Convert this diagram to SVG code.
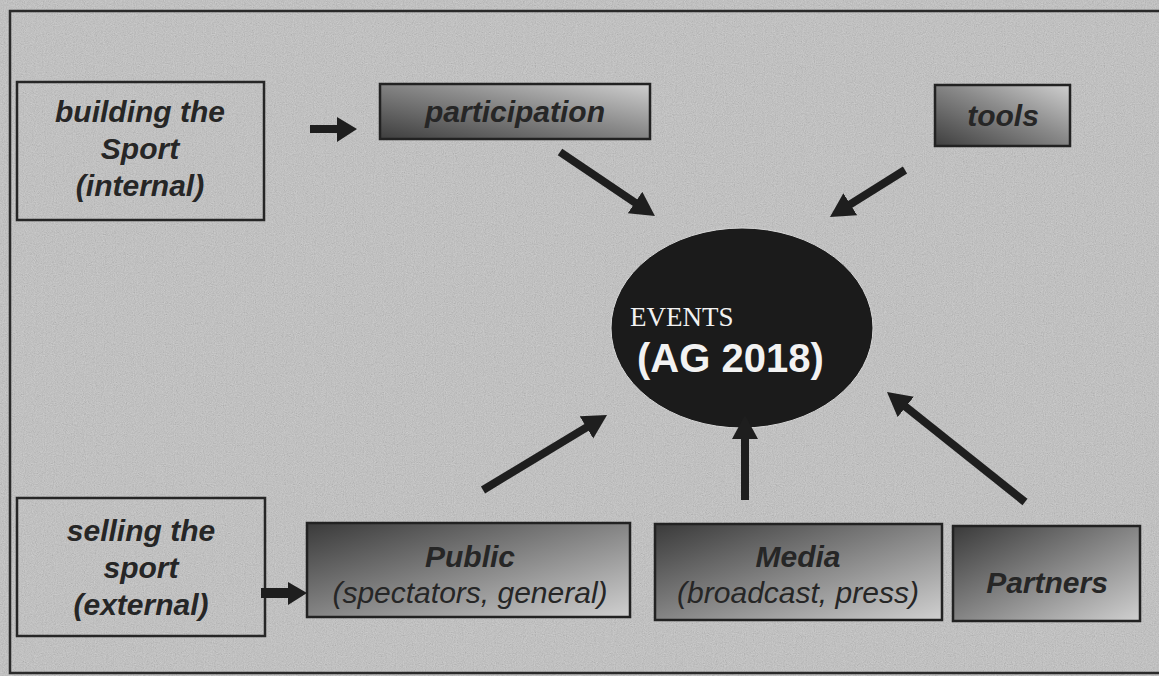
<svg xmlns="http://www.w3.org/2000/svg" width="1159" height="676" viewBox="0 0 1159 676">
  <defs>
    <filter id="noise" x="0" y="0" width="100%" height="100%">
      <feTurbulence type="fractalNoise" baseFrequency="0.9" numOctaves="2" seed="3" result="t"/>
      <feColorMatrix type="matrix" values="0.33 0.33 0.33 0 0  0.33 0.33 0.33 0 0  0.33 0.33 0.33 0 0  0 0 0 0 0.35"/>
    </filter>
    <linearGradient id="gTop" x1="0" y1="1" x2="1" y2="0">
      <stop offset="0" stop-color="#3e3e3e"/>
      <stop offset="0.55" stop-color="#8a8a8a"/>
      <stop offset="1" stop-color="#cfcfcf"/>
    </linearGradient>
    <linearGradient id="gBot" x1="0" y1="0" x2="1" y2="1">
      <stop offset="0" stop-color="#3a3a3a"/>
      <stop offset="0.55" stop-color="#8c8c8c"/>
      <stop offset="1" stop-color="#d0d0d0"/>
    </linearGradient>
    <marker id="head" markerUnits="userSpaceOnUse" markerWidth="28" markerHeight="28" refX="2" refY="13" orient="auto">
      <path d="M0,0 L24,13 L0,26 z" fill="#1e1e1e"/>
    </marker>
    <style>
      .plain { fill: none; stroke: #262626; stroke-width: 2.5; }
      .grad { stroke: #222; stroke-width: 2.5; }
      .lbl { font-family: "Liberation Sans", Arial, sans-serif; font-size: 30px; font-style: italic; font-weight: bold; fill: #262626; text-anchor: middle; }
      .sub { font-family: "Liberation Sans", Arial, sans-serif; font-size: 30px; font-style: italic; font-weight: normal; fill: #262626; text-anchor: middle; }
      .conn { stroke: #1e1e1e; stroke-width: 8; fill: none; marker-end: url(#head); }
      .block { fill: #1e1e1e; }
    </style>
  </defs>

  <rect x="0" y="0" width="1159" height="676" fill="#c3c3c3"/>
  <rect x="0" y="0" width="1159" height="676" filter="url(#noise)"/>
  <path d="M1159,11 H10 V673 H1159" fill="none" stroke="#2a2a2a" stroke-width="2.5"/>

  <g id="building">
    <rect class="plain" x="17" y="82" width="247" height="138"/>
    <text class="lbl" x="140" y="122">building the</text>
    <text class="lbl" x="140" y="159">Sport</text>
    <text class="lbl" x="140" y="196">(internal)</text>
  </g>

  <g id="participation">
    <rect class="grad" x="380" y="84" width="270" height="55" fill="url(#gTop)"/>
    <text class="lbl" x="515" y="122">participation</text>
  </g>

  <g id="tools">
    <rect class="grad" x="935" y="85" width="135" height="61" fill="url(#gTop)"/>
    <text class="lbl" x="1003" y="126">tools</text>
  </g>

  <g id="events">
    <ellipse cx="742" cy="328" rx="131" ry="100" fill="#1b1b1b" stroke="#d8d8d8" stroke-width="1"/>
    <text x="630" y="326" font-family="'Liberation Serif', 'Times New Roman', serif" font-size="27" fill="#f2f2f2">EVENTS</text>
    <text x="637" y="372" font-family="'Liberation Sans', Arial, sans-serif" font-size="40" font-weight="bold" fill="#f2f2f2">(AG 2018)</text>
  </g>

  <g id="selling">
    <rect class="plain" x="17" y="498" width="248" height="138"/>
    <text class="lbl" x="141" y="541">selling the</text>
    <text class="lbl" x="141" y="578">sport</text>
    <text class="lbl" x="141" y="615">(external)</text>
  </g>

  <g id="public">
    <rect class="grad" x="307" y="523" width="323" height="94" fill="url(#gBot)"/>
    <text class="lbl" x="470" y="567" fill="#4a4a4a">Public</text>
    <text class="sub" x="470" y="603">(spectators, general)</text>
  </g>

  <g id="media">
    <rect class="grad" x="655" y="524" width="287" height="96" fill="url(#gBot)"/>
    <text class="lbl" x="798" y="567" fill="#4a4a4a">Media</text>
    <text class="sub" x="798" y="603">(broadcast, press)</text>
  </g>

  <g id="partners">
    <rect class="grad" x="953" y="526" width="187" height="95" fill="url(#gBot)"/>
    <text class="lbl" x="1047" y="593">Partners</text>
  </g>

  <g id="connectors">
    <polygon class="block" points="310,125 337,125 337,117 357,129 337,142 337,133 310,133"/>
    <polygon class="block" points="261,588 288,588 288,582 307,593 288,605 288,598 261,598"/>
    <line class="conn" x1="560" y1="152" x2="636.7" y2="203.7"/>
    <line class="conn" x1="905" y1="170" x2="848.6" y2="205.3"/>
    <line class="conn" x1="483" y1="490" x2="588.2" y2="426.4"/>
    <line class="conn" x1="745" y1="500" x2="745" y2="437"/>
    <line class="conn" x1="1025" y1="502" x2="904.2" y2="405.7"/>
  </g>
</svg>
